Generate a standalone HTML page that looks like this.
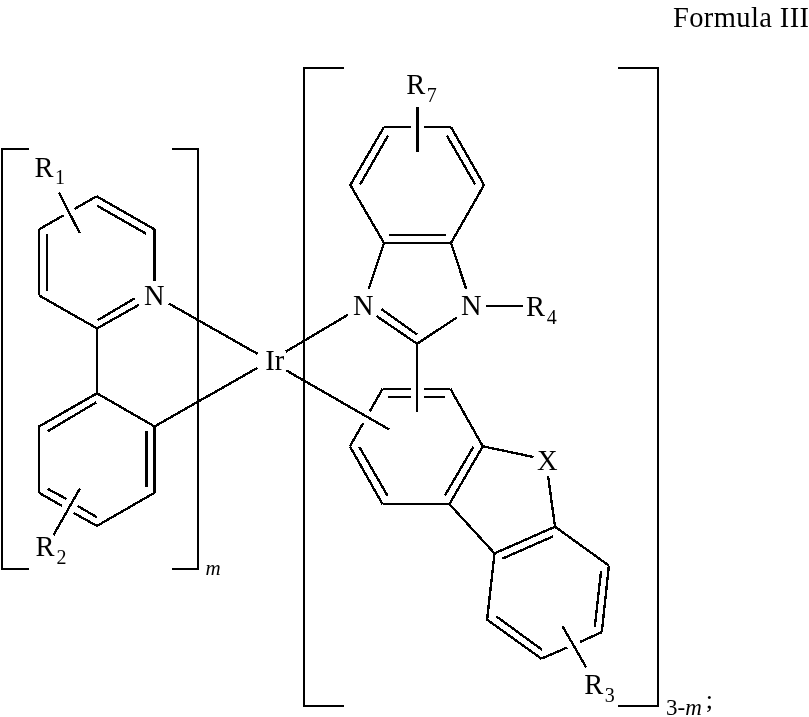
<!DOCTYPE html><html><head><meta charset="utf-8"><style>html,body{margin:0;padding:0;background:#fff;}svg{display:block;will-change:transform;}text{font-family:"Liberation Serif",serif;fill:#000;}</style></head><body>
<svg width="809" height="717" viewBox="0 0 809 717">
<g stroke="#000" stroke-width="2" fill="none" stroke-linecap="butt" shape-rendering="crispEdges">
<path d="M29,149 H2 V569 H29"/>
<path d="M172,149 H198 V569 H172"/>
<path d="M344,68 H304 V706 H344"/>
<path d="M618,68 H658 V706 H618"/>
</g>
<g stroke="#000" stroke-width="2.35" fill="none" stroke-linecap="butt" shape-rendering="crispEdges">
<line x1="96.75" y1="196.3" x2="154.5" y2="229.3"/>
<line x1="97.12" y1="205.7" x2="146.19" y2="233.76"/>
<line x1="154.5" y1="229.3" x2="154.5" y2="280.6"/>
<line x1="138.8" y1="304.9" x2="97" y2="328.4"/>
<line x1="134.6" y1="298.4" x2="97.7" y2="320.2"/>
<line x1="97" y1="328.4" x2="39" y2="295.4"/>
<line x1="39" y1="295.4" x2="39" y2="229.3"/>
<line x1="47" y1="234" x2="47" y2="291"/>
<line x1="39" y1="229.3" x2="63.5" y2="215.4"/>
<line x1="74.6" y1="208.9" x2="96.75" y2="196.3"/>
<line x1="58.8" y1="192.5" x2="79.7" y2="233"/>
<line x1="97" y1="328.4" x2="97" y2="393.3"/>
<line x1="97" y1="393.3" x2="154.5" y2="426.45"/>
<line x1="154.5" y1="426.45" x2="154.5" y2="492.75"/>
<line x1="146.5" y1="431.2" x2="146.5" y2="487.3"/>
<line x1="154.5" y1="492.75" x2="97" y2="525.9"/>
<line x1="97" y1="525.9" x2="73.5" y2="512.9"/>
<line x1="62.2" y1="506" x2="39" y2="492.75"/>
<line x1="96.8" y1="517.2" x2="77.8" y2="506"/>
<line x1="66.5" y1="499" x2="47.5" y2="488.7"/>
<line x1="39" y1="492.75" x2="39" y2="426.45"/>
<line x1="39" y1="426.45" x2="97" y2="393.3"/>
<line x1="47.5" y1="431.4" x2="96.3" y2="402.3"/>
<line x1="80" y1="488.3" x2="53.6" y2="535"/>
<line x1="168.8" y1="303.5" x2="257.6" y2="353.9"/>
<line x1="154.5" y1="426.45" x2="257.6" y2="367.8"/>
<line x1="285.9" y1="351.6" x2="347.9" y2="314.8"/>
<line x1="286.4" y1="370.5" x2="389.3" y2="429.6"/>
<line x1="384" y1="127" x2="411" y2="127"/>
<line x1="423.9" y1="127" x2="451" y2="127"/>
<line x1="417.5" y1="107.1" x2="417.5" y2="151.9"/>
<line x1="451" y1="127" x2="484" y2="185"/>
<line x1="446.9" y1="135.7" x2="475.1" y2="184.3"/>
<line x1="484" y1="185" x2="451" y2="243"/>
<line x1="451" y1="243" x2="384" y2="243"/>
<line x1="389.2" y1="235" x2="446" y2="235"/>
<line x1="384" y1="243" x2="350.3" y2="185"/>
<line x1="350.3" y1="185" x2="384" y2="127"/>
<line x1="360.1" y1="184.4" x2="388" y2="135.6"/>
<line x1="384" y1="243" x2="368.7" y2="289"/>
<line x1="376.6" y1="316.1" x2="417.1" y2="343.8"/>
<line x1="381.5" y1="309.2" x2="417.1" y2="334.5"/>
<line x1="417.1" y1="343.8" x2="456.7" y2="317.5"/>
<line x1="466.2" y1="289" x2="451" y2="243"/>
<line x1="486" y1="306" x2="523" y2="306"/>
<line x1="417.1" y1="343.8" x2="417.1" y2="411.5"/>
<line x1="382.6" y1="388.7" x2="410.8" y2="388.7"/>
<line x1="424" y1="388.7" x2="450.3" y2="388.7"/>
<line x1="388.2" y1="397.1" x2="410.8" y2="397.1"/>
<line x1="424" y1="397.1" x2="445.1" y2="397.1"/>
<line x1="450.3" y1="388.7" x2="482.8" y2="446.3"/>
<line x1="482.8" y1="446.3" x2="449.4" y2="504.1"/>
<line x1="473.5" y1="446.7" x2="444.8" y2="495.6"/>
<line x1="449.4" y1="504.1" x2="382.5" y2="504.1"/>
<line x1="382.5" y1="504.1" x2="349.9" y2="446.3"/>
<line x1="387.5" y1="495.6" x2="359.2" y2="446.7"/>
<line x1="349.9" y1="446.3" x2="363.3" y2="423"/>
<line x1="369.7" y1="411.5" x2="382.6" y2="388.7"/>
<line x1="482.8" y1="446.3" x2="533.5" y2="457"/>
<line x1="548.1" y1="475.9" x2="555" y2="526.7"/>
<line x1="555" y1="526.7" x2="494.5" y2="553.4"/>
<line x1="553" y1="536.4" x2="502.3" y2="558.7"/>
<line x1="494.5" y1="553.4" x2="449.4" y2="504.1"/>
<line x1="555" y1="526.7" x2="608.9" y2="565.6"/>
<line x1="608.9" y1="565.6" x2="601.8" y2="632.2"/>
<line x1="601.1" y1="570.6" x2="594.8" y2="627"/>
<line x1="601.8" y1="632.2" x2="579.8" y2="642"/>
<line x1="567.2" y1="647.5" x2="541.4" y2="658.7"/>
<line x1="541.4" y1="658.7" x2="487.1" y2="619.7"/>
<line x1="496.3" y1="616.4" x2="542.1" y2="649.8"/>
<line x1="487.1" y1="619.7" x2="494.5" y2="553.4"/>
<line x1="562.5" y1="626.2" x2="586.3" y2="667.6"/>
</g>
<text x="34.5" y="177.2" font-size="28.5">R</text>
<text x="55" y="184.4" font-size="20">1</text>
<text x="144" y="305.1" font-size="28.5">N</text>
<text x="265.3" y="370" font-size="28.5">Ir</text>
<text x="35.5" y="555.7" font-size="28.5">R</text>
<text x="56.6" y="563.8" font-size="20">2</text>
<text x="205.5" y="574.8" font-size="21" font-style="italic">m</text>
<text x="406.3" y="94" font-size="28.5">R</text>
<text x="426.8" y="101.5" font-size="20">7</text>
<text x="353.1" y="315.4" font-size="28.5">N</text>
<text x="461" y="315.3" font-size="28.5">N</text>
<text x="526" y="315.8" font-size="28.5">R</text>
<text x="546.8" y="323.6" font-size="20">4</text>
<text x="537" y="469.7" font-size="28.5">X</text>
<text x="584.3" y="693.9" font-size="28.5">R</text>
<text x="604.8" y="701.6" font-size="20">3</text>
<text x="666.1" y="714.8" font-size="23">3-<tspan font-style='italic'>m</tspan></text>
<text x="705.7" y="708.2" font-size="26">;</text>
<text x="672.9" y="27" font-size="28.5" letter-spacing='0.4'>Formula III</text>
</svg></body></html>
